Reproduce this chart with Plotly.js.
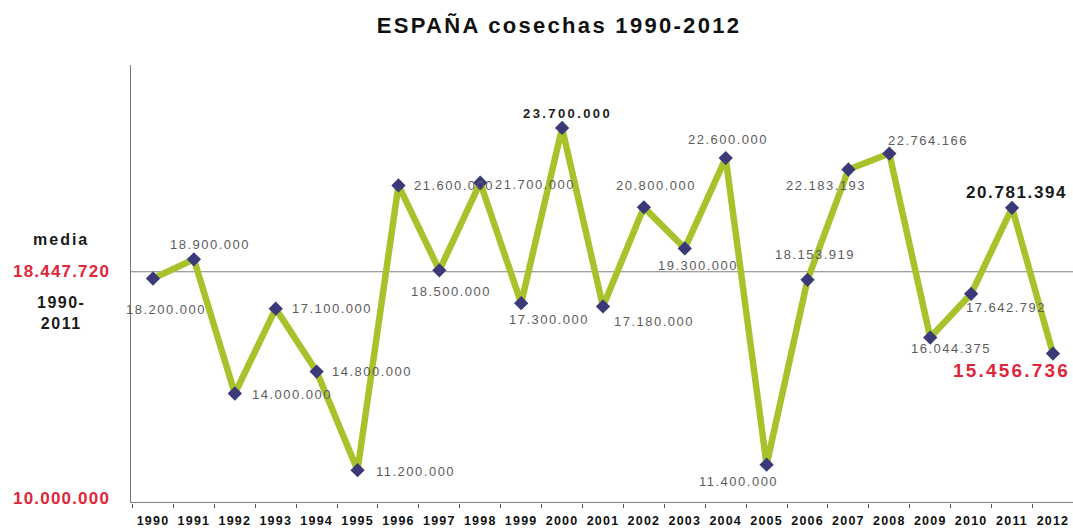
<!DOCTYPE html>
<html>
<head>
<meta charset="utf-8">
<script src="https://cdn.plot.ly/plotly-3.0.1.min.js"></script>
<style>html,body{margin:0;padding:0;background:#fff;}#chart{width:1073px;height:528px;}</style>
</head>
<body>
<div id="chart"></div>
<script>
const years = [1990,1991,1992,1993,1994,1995,1996,1997,1998,1999,2000,2001,2002,2003,2004,2005,2006,2007,2008,2009,2010,2011,2012];
const harvest = [18200000,18900000,14000000,17100000,14800000,11200000,21600000,18500000,21700000,17300000,23700000,17180000,20800000,19300000,22600000,11400000,18153919,22183193,22764166,16044375,17642792,20781394,15456736];
const mean = 18447720;
const yMin = 10000000;
const yMax = 26000000;

// label offsets in pixels (style only)
const labelDx = [13,16,57,56,55,58,56,12,55,28,5,51,12,13,2,-28,7,-22,39,21,35,4,-41];
const labelDy = [31,-15,1,0,0,1,0,21,2,16,-14,15,-22,17,-19,17,-25,16,-13,11,14,-15,17];

const FAM = 'Liberation Sans, Arial, sans-serif';
function fmt(v){ return String(v).replace(/\B(?=(\d{3})+(?!\d))/g,'.'); }
function sp(t, px, bold){
  const s = '<span style="letter-spacing:'+px+'px">'+t+'</span>';
  return bold ? '<b>'+s+'</b>' : s;
}

const annotations = years.map((yr,i)=>{
  let font = {family:FAM, size:13, color:'#5c5c5c'};
  let text = sp(fmt(harvest[i]), 1.5, false);
  if (yr===2000){ font = {family:FAM, size:13, color:'#222'}; text = sp(fmt(harvest[i]), 2.4, true); }
  if (yr===2011){ font = {family:FAM, size:17, color:'#1a1a1a'}; text = sp(fmt(harvest[i]), 1.6, true); }
  if (yr===2012){ font = {family:FAM, size:19, color:'#e0263a'}; text = sp(fmt(harvest[i]), 2.2, true); }
  return {x:yr, y:harvest[i], xref:'x', yref:'y', text:text, showarrow:false,
    xshift:labelDx[i], yshift:-labelDy[i], font:font, xanchor:'center', yanchor:'middle'};
});

const sideFont = {family:FAM, size:16, color:'#1a1a1a'};
const sideRed = {family:FAM, size:17, color:'#e0263a'};
const sideX = -0.0743;
annotations.push(
  {xref:'paper', yref:'y', x:sideX, y:mean, yshift:32, text:sp('media',2,true), showarrow:false, font:sideFont, xanchor:'center', yanchor:'middle'},
  {xref:'paper', yref:'y', x:sideX, y:mean, text:sp(fmt(mean),1.2,true), showarrow:false, font:sideRed, xanchor:'center', yanchor:'middle'},
  {xref:'paper', yref:'y', x:sideX, y:mean, yshift:-41, text:sp('1990-',1.5,true)+'<br>'+sp('2011',1.5,true), showarrow:false, font:sideFont, xanchor:'center', yanchor:'middle'},
  {xref:'paper', yref:'y', x:sideX, y:yMin, yshift:5, text:sp(fmt(yMin),1.2,true), showarrow:false, font:sideRed, xanchor:'center', yanchor:'middle'}
);

const traces = [
  {x:[years[0]-1, years[years.length-1]+1], y:[mean, mean], mode:'lines', line:{color:'#808080', width:1.2}, hoverinfo:'skip'},
  {x:years, y:harvest, mode:'lines+markers', line:{color:'#a8c22c', width:6.5},
   marker:{symbol:'diamond', size:11, color:'#3a3a78'}}
];

const layout = {
  width:1073, height:528,
  margin:{l:131, r:0, t:65, b:25},
  paper_bgcolor:'#fff', plot_bgcolor:'#fff',
  showlegend:false,
  title:{text:sp('ESPAÑA cosechas 1990-2012',2.3,true), x:0.521, xanchor:'center', y:0.953, yanchor:'middle',
    font:{family:FAM, size:22, color:'#111'}},
  xaxis:{range:[1989.462, 2012.49], tickvals:years, ticktext:years.map(y=>sp(String(y),1.2,true)),
    ticks:'', showgrid:false, zeroline:false, showline:false, ticklabelstandoff:8,
    tickfont:{family:FAM, size:12.5, color:'#111'},
    minor:{tick0:1989.5, dtick:1, ticks:'outside', ticklen:4, tickcolor:'#555', showgrid:false}},
  yaxis:{range:[yMin, yMax], showticklabels:false, ticks:'', showgrid:false,
    zeroline:false, showline:true, linecolor:'#777', linewidth:1.5},
  shapes:[{type:'line', xref:'paper', yref:'y', x0:0, x1:1, y0:yMin, y1:yMin, line:{color:'#555', width:1.5}}],
  annotations:annotations
};

Plotly.newPlot('chart', traces, layout, {displayModeBar:false, staticPlot:true});
</script>
</body>
</html>
